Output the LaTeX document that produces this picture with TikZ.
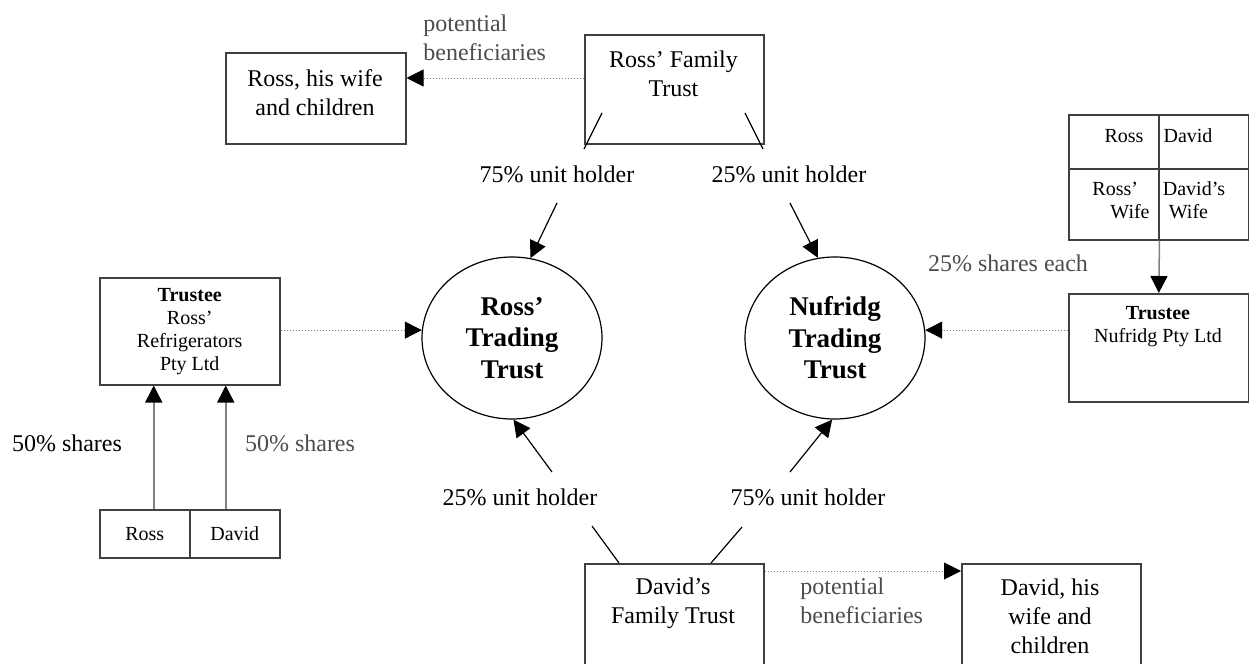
\documentclass[tikz,border=0pt]{standalone}
\usepackage{fontspec}
\setmainfont{Liberation Serif}
\usetikzlibrary{arrows.meta,shapes.geometric}
\definecolor{boxgray}{gray}{0.25}
\definecolor{linegray}{gray}{0.5}
\definecolor{labelgray}{gray}{0.3}

\begin{document}
\begin{tikzpicture}[x=0.5pt, y=-0.5pt,
		box/.style={draw=boxgray, line width=0.75pt, inner sep=0pt, anchor=north west, align=center, font=\fontsize{10}{11.5}\selectfont},
		trust/.style={draw=black, line width=0.6pt, ellipse, minimum width=90pt, minimum height=81pt, inner sep=0pt, align=center, font=\fontsize{13.5}{15.75}\selectfont\bfseries},
		txt/.style={inner sep=0pt, align=center, font=\fontsize{12}{14.5}\selectfont},
		small/.style={inner sep=0pt, align=center, font=\fontsize{10}{11.5}\selectfont},
		tip/.style={-{Triangle[length=8.5pt,width=8.5pt,color=black]}},
		dots/.style={draw=linegray, densely dotted, line width=0.5pt},
		up/.style={draw=linegray, line width=0.75pt}]
			\useasboundingbox (0, 0) rectangle (1249, 664);
			%%
			\node[box, minimum width=90pt, minimum height=45.5pt] (rkin) at (225, 52) {};
			\node[txt] (rkintxt) at (315, 92.5) {Ross, his wife\\and children};
			\node[box, minimum width=89.5pt, minimum height=54.5pt] (rft) at (584, 34) {};
			\node[txt] (rfttxt) at (673.5, 74) {Ross' Family\\Trust};
			\node[txt, text=labelgray, align=left, anchor=west] (rben) at (423, 37.5) {potential\\beneficiaries};
			%%
			\node[txt] (rft75) at (557, 174) {75\% unit holder};
			\node[txt] (rft25) at (789, 174) {25\% unit holder};
			%%
			\node[trust] (rtt) at (512, 338) {Ross'\\Trading\\Trust};
			\node[trust] (ntt) at (835, 338) {Nufridg\\Trading\\Trust};
			%%
			\node[box, minimum width=90pt, minimum height=53.5pt] (rtrust) at (99, 277) {\textbf{Trustee}\\Ross'\\Refrigerators\\Pty Ltd};
			\node[box, minimum width=45pt, minimum height=24pt] (rcell) at (99, 509) {Ross};
			\node[box, minimum width=45pt, minimum height=24pt] (dcell) at (189, 509) {David};
			\node[txt] (rsh) at (67, 443) {50\% shares};
			\node[txt, text=labelgray] (dsh) at (300, 443) {50\% shares};
			%%
			\node[box, minimum width=45pt, minimum height=27pt] (g1) at (1068, 114) {};
			\node[box, minimum width=45pt, minimum height=27pt] (g2) at (1158, 114) {};
			\node[box, minimum width=45pt, minimum height=35.5pt] (g3) at (1068, 168) {};
			\node[box, minimum width=45pt, minimum height=35.5pt] (g4) at (1158, 168) {};
			\node[small] (g1txt) at (1124, 136) {Ross};
			\node[small] (g2txt) at (1188, 136) {David};
			\node[small, align=left] (g3txt) at (1121, 200.5) {Ross'\\\hspace*{9pt}Wife};
			\node[small, align=left] (g4txt) at (1194, 200.5) {David's\\\hspace*{3pt}Wife};
			\node[txt, text=labelgray] (gsh) at (1008, 263) {25\% shares each};
			\node[box, minimum width=90pt, minimum height=54pt] (ntrust) at (1068, 293) {};
			\node[small] (ntrusttxt) at (1158, 327) {\textbf{Trustee}\\Nufridg Pty Ltd};
			%%
			\node[txt] (dft25) at (520, 497) {25\% unit holder};
			\node[txt] (dft75) at (808, 497) {75\% unit holder};
			\node[box, minimum width=89.5pt, minimum height=58.5pt] (dft) at (584, 563) {};
			\node[txt] (dfttxt) at (673, 603) {David's\\Family Trust};
			\node[txt, text=labelgray, align=left, anchor=west] (dben) at (800, 600.5) {potential\\beneficiaries};
			\node[box, minimum width=89.5pt, minimum height=58.5pt] (dkin) at (961, 563) {};
			\node[txt] (dkintxt) at (1050, 616) {David, his\\wife and\\children};
			%%
			\coordinate (rftl) at ([yshift=-22pt]rft.north west);
			\draw[dots, tip] (rftl) -- (rftl -| rkin.east);
			\coordinate (dftr) at ([yshift=-4pt]dft.north east);
			\draw[dots, tip] (dftr) -- (dftr -| dkin.west);
			\draw[dots, tip] (rtrust.east |- rtt.175) -- (rtt.175);
			\draw[dots, tip] (ntrust.west |- ntt.5) -- (ntt.5);
			%%
			\coordinate (s1a) at (602, 113); \coordinate (s1b) at (584, 149);
			\coordinate (s2a) at (745, 113); \coordinate (s2b) at (763, 149);
			\draw[line width=0.6pt] (s1a) -- (s1b);
			\draw[line width=0.6pt] (s2a) -- (s2b);
			\coordinate (s3a) at (592, 526); \coordinate (s3b) at (619, 563);
			\coordinate (s4a) at (742, 527); \coordinate (s4b) at (711, 563);
			\draw[line width=0.6pt] (s3a) -- (s3b);
			\draw[line width=0.6pt] (s4a) -- (s4b);
			%%
			\coordinate (a1) at (557, 203); \coordinate (a2) at (790, 203);
			\coordinate (a3) at (552, 472); \coordinate (a4) at (790, 472);
			\draw[tip, line width=0.6pt] (a1) -- (rtt.77);
			\draw[tip, line width=0.6pt] (a2) -- (ntt.102.5);
			\draw[tip, line width=0.6pt] (a3) -- (rtt.271.4);
			\draw[tip, line width=0.6pt] (a4) -- (ntt.268.6);
			%%
			\draw[up, tip] ([xshift=4.5pt]rcell.north) -- ([xshift=4.5pt]rcell.north |- rtrust.south);
			\draw[up, tip] ([xshift=-4.5pt]dcell.north) -- ([xshift=-4.5pt]dcell.north |- rtrust.south);
			\draw[up, tip] (g3.south east) -- (ntrust.north);
		\end{tikzpicture}
\end{document}
